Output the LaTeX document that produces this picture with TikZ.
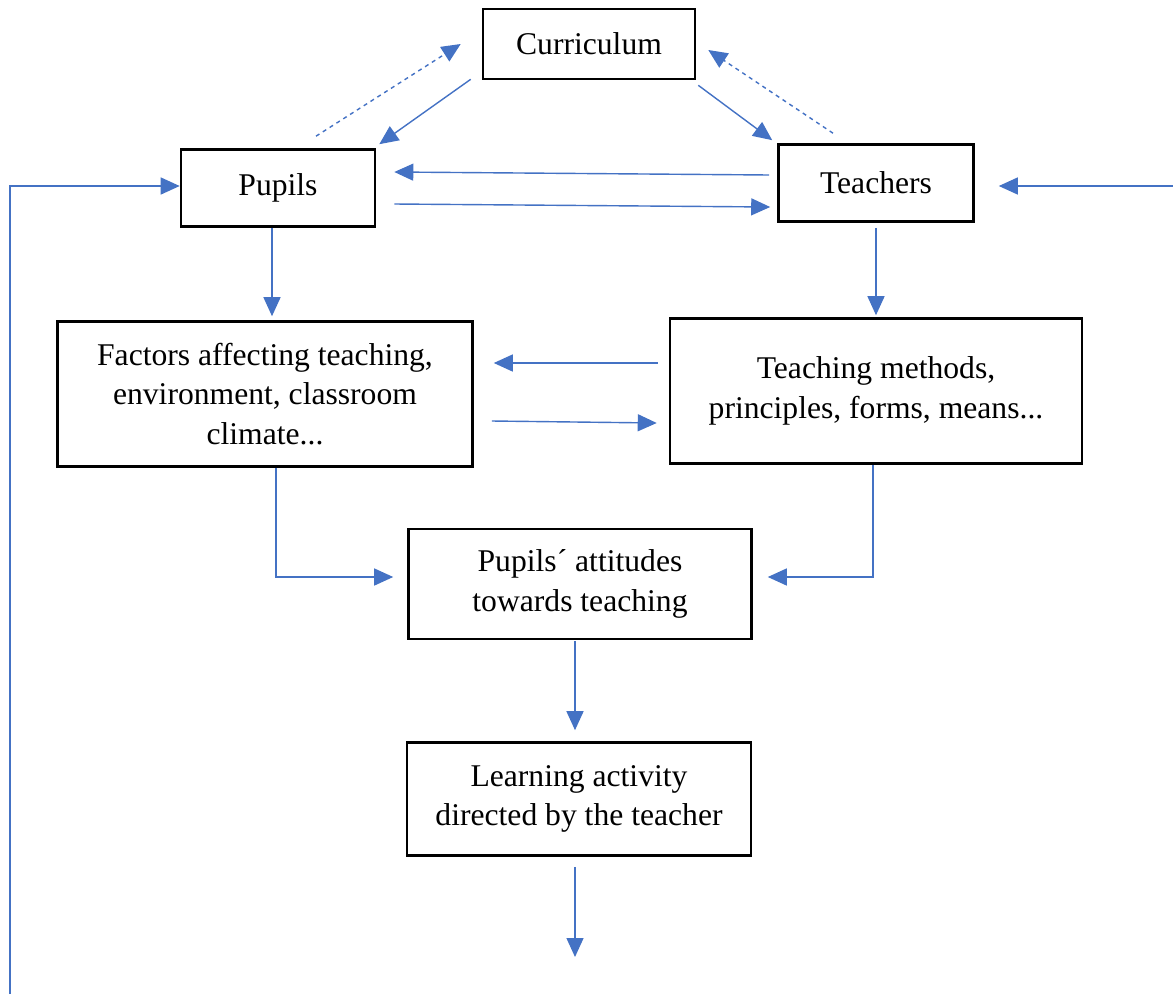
\documentclass[tikz,border=0pt]{standalone}
\usepackage{fontspec}
\setmainfont{Liberation Serif}
\usepackage{xcolor}
\usepackage{tikz}
\usetikzlibrary{arrows.meta,positioning,calc}

\definecolor{linkblue}{RGB}{68,114,196}
\tikzset{
  box/.style={draw, line width=1.5pt, align=center, inner sep=2pt,
              font=\fontsize{18}{22.5}\selectfont},
  link/.style={draw=linkblue, line width=0.8pt, -{Triangle[length=3.8mm,width=3.4mm]}},
  dashlink/.style={link, dash pattern=on 2.3pt off 2.3pt},
}

\begin{document}
\begin{tikzpicture}[x=0.02cm, y=-0.02cm]
  \useasboundingbox (0,0) rectangle (1173,994);
  % Boxes
  \node[box, minimum width=4.24cm, minimum height=1.40cm] (curr) at (589,44) {Curriculum};
  \node[box, minimum width=3.88cm, minimum height=1.54cm] (pupils) at (278,188) {Pupils};
  \node[box, minimum width=3.90cm, minimum height=1.54cm] (teach) at (876,183) {Teachers};
  \node[box, minimum width=8.30cm, minimum height=2.90cm] (factors) at (265,394)
        {Factors affecting teaching,\\ environment, classroom\\ climate...};
  \node[box, minimum width=8.24cm, minimum height=2.90cm] (methods) at (876,391)
        {Teaching methods,\\ principles, forms, means...};
  \node[box, minimum width=6.86cm, minimum height=2.20cm] (attit) at (580,584)
        {Pupils´ attitudes\\ towards teaching};
  \node[box, minimum width=6.88cm, minimum height=2.26cm] (learn) at (579,799)
        {Learning activity\\ directed by the teacher};
  % Free ends
  \coordinate (loopstart) at (10,994);
  \coordinate (rightin) at (1173,186);
  \coordinate (out) at (575,957);
  % Curriculum links
  \draw[dashlink] ($(pupils.north)+(38,-12)$) -- ($(curr.west)+(-21,0)$);
  \draw[link] ($(curr.south west)+(-11,-1)$) -- ($(pupils.north east)+(3,-4)$);
  \draw[link] ($(curr.south east)+(2,5)$) -- ($(teach.north west)+(-5,-3)$);
  \draw[dashlink] ($(teach.north)+(-43,-10)$) -- ($(curr.east)+(12,6)$);
  % Pupils <-> Teachers
  \draw[link] ($(teach.west)+(-8,-8)$) -- ($(pupils.east)+(18,-16)$);
  \draw[link] ($(pupils.east)+(18,16)$) -- ($(teach.west)+(-7,24)$);
  % Feedback lines
  \draw[link] (loopstart) |- ($(pupils.west)+(0,-2)$);
  \draw[link] (rightin) -- ($(teach.east)+(24,3)$);
  % Downward flow
  \draw[link] ($(pupils.south)+(-6,0)$) -- ($(factors.north)+(7,-4)$);
  \draw[link] ($(teach.south)+(0,5)$) -- ($(methods.north)+(0,-2)$);
  \draw[link] ($(methods.west)+(-11,-28)$) -- ($(factors.east)+(20,-31)$);
  \draw[link] ($(factors.east)+(18,27)$) -- ($(methods.west)+(-12,32)$);
  \draw[link] ($(factors.south)+(11,0)$) |- ($(attit.west)+(-14,-7)$);
  \draw[link] ($(methods.south)+(-3,0)$) |- ($(attit.east)+(15,-7)$);
  \draw[link] ($(attit.south)+(-5,1)$) -- ($(learn.north)+(-4,-11)$);
  \draw[link] ($(learn.south)+(-4,10)$) -- (out);
\end{tikzpicture}
\end{document}
